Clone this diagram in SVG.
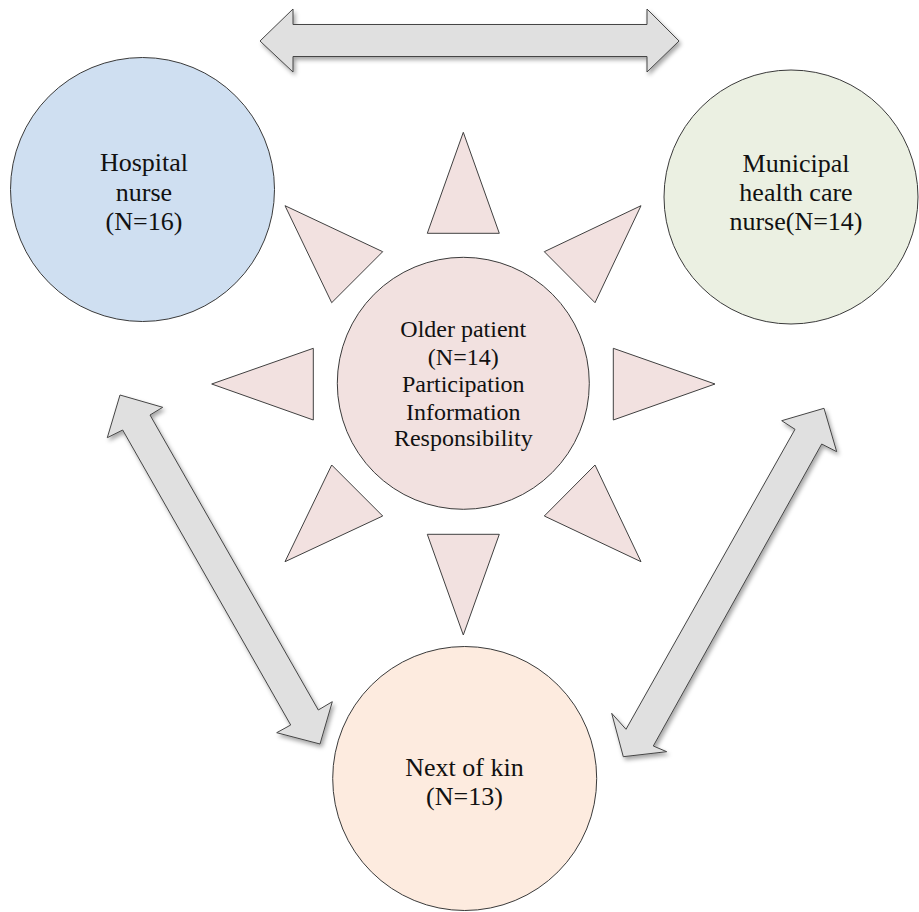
<svg xmlns="http://www.w3.org/2000/svg" width="919" height="912" viewBox="0 0 919 912">
  <style>
    .node { stroke: #3a3a3a; stroke-width: 1; }
    .ray { fill: #f2e1e0; stroke: #404040; stroke-width: 1; stroke-linejoin: miter; }
    .link { fill: #e0e0e0; stroke: #454545; stroke-width: 1; filter: url(#shadow); }
    .label { font-family: "Liberation Serif", "Times New Roman", serif; fill: #111; text-anchor: middle; }
    .big { font-size: 26px; }
    .mid { font-size: 24px; }
  </style>
  <defs>
    <filter id="shadow" x="-10%" y="-10%" width="130%" height="130%">
      <feDropShadow dx="2" dy="3" stdDeviation="2" flood-color="#000" flood-opacity="0.35"/>
    </filter>
  </defs>
  <rect width="919" height="912" fill="#ffffff"/>

  <!-- two-headed block arrows between the outer roles -->
  <g id="connectors">
    <polygon class="link" points="260,41 293,9 293,24.5 647,24.5 647,9 679,41 647,72 647,56.5 293,56.5 293,72"/>
    <polygon class="link" points="120,395 162.7,407.3 150,415 318.3,710 332.3,701.7 320,744 276.7,732.7 290.7,725 122.7,430 107.3,437.7"/>
    <polygon class="link" points="824,408.3 836.7,451.7 821.7,444 653.3,746 666.7,751.7 623.3,756.7 611.7,713.3 626,729.3 795,429.3 781.7,420.7"/>
  </g>

  <g id="hospital-nurse">
    <circle class="node" cx="142.5" cy="189.5" r="132" fill="#cfdff1"/>
    <text class="label big" x="144" y="171">Hospital</text>
    <text class="label big" x="144" y="201">nurse</text>
    <text class="label big" x="144" y="230">(N=16)</text>
  </g>

  <g id="municipal-nurse">
    <circle class="node" cx="791" cy="197" r="127" fill="#ebf0e2"/>
    <text class="label big" x="796" y="171.5">Municipal</text>
    <text class="label big" x="796" y="201">health care</text>
    <text class="label big" x="796" y="230">nurse(N=14)</text>
  </g>

  <g id="next-of-kin">
    <circle class="node" cx="464.7" cy="778.5" r="132" fill="#fdebdf"/>
    <text class="label big" x="464.5" y="776">Next of kin</text>
    <text class="label big" x="464.5" y="805">(N=13)</text>
  </g>

  <!-- central patient with eight rays -->
  <g id="older-patient">
    <polygon class="ray" points="463.3,132.3 499.3,233.3 427.3,233.3"/>
    <polygon class="ray" points="463.3,635 427.3,534.3 499.3,534.3"/>
    <polygon class="ray" points="211.7,384 313.3,348.3 313.3,420"/>
    <polygon class="ray" points="715,384 613.3,348.3 613.3,420"/>
    <polygon class="ray" points="285,205.7 382.7,251.7 331.7,302.7"/>
    <polygon class="ray" points="641,205.7 544.3,251.7 595,302.7"/>
    <polygon class="ray" points="331.7,465 382.7,516 285,561.7"/>
    <polygon class="ray" points="595,465 544.3,516 641,561.7"/>
    <circle class="node" cx="463.3" cy="383.3" r="126" fill="#f2e1e0"/>
    <text class="label mid" x="463.3" y="336.7">Older patient</text>
    <text class="label mid" x="463.3" y="365">(N=14)</text>
    <text class="label mid" x="463.3" y="392">Participation</text>
    <text class="label mid" x="463.3" y="419.5">Information</text>
    <text class="label mid" x="463.3" y="445.5">Responsibility</text>
  </g>
</svg>
